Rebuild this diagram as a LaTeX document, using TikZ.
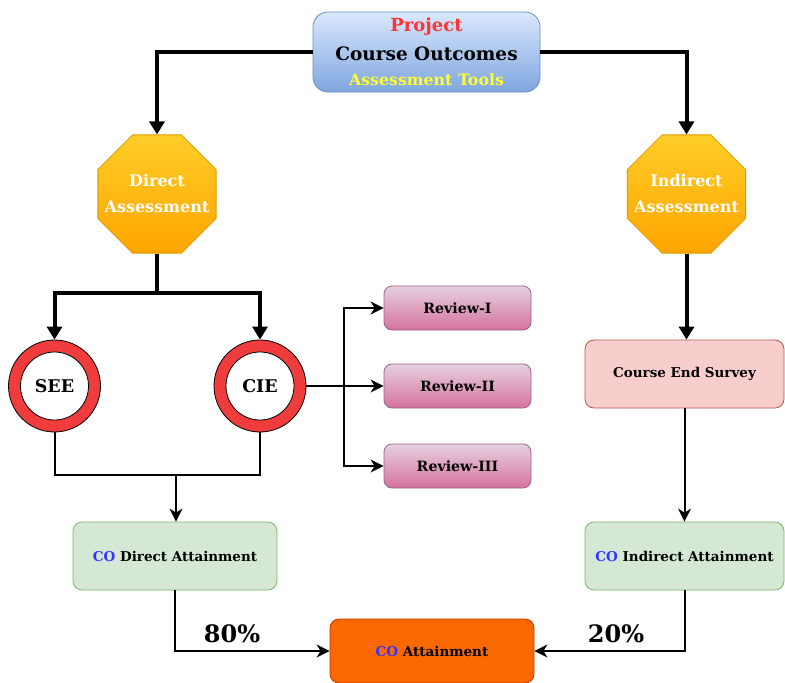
\documentclass[tikz,border=0pt]{standalone}
\usepackage{fontspec}
\setmainfont{DejaVu Serif}
\usetikzlibrary{arrows.meta,shapes.geometric}
\definecolor{topfillA}{HTML}{DAE8FC}
\definecolor{topfillB}{HTML}{7EA6E0}
\definecolor{topstroke}{HTML}{6C8EBF}
\definecolor{octA}{HTML}{FFCD28}
\definecolor{octB}{HTML}{FFA500}
\definecolor{octstroke}{HTML}{D79B00}
\definecolor{projred}{HTML}{FF3333}
\definecolor{toolyel}{HTML}{FFFF33}
\definecolor{cobl}{HTML}{3333FF}
\definecolor{ringred}{HTML}{F03C3C}
\definecolor{revA}{HTML}{E6D0DE}
\definecolor{revB}{HTML}{D5739D}
\definecolor{revstroke}{HTML}{996185}
\definecolor{cesfill}{HTML}{F8CECC}
\definecolor{cesstroke}{HTML}{B85450}
\definecolor{grfill}{HTML}{D5E8D4}
\definecolor{grstroke}{HTML}{82B366}
\definecolor{orfill}{HTML}{FA6800}
\definecolor{orstroke}{HTML}{C73500}
\begin{document}
\begin{tikzpicture}[x=1pt,y=-1pt,
  thickarrow/.style={line width=4pt,-{Triangle[width=15pt,length=13pt]}},
  thickline/.style={line width=4pt},
  thinarrow/.style={line width=2pt,-{Stealth[width=13pt,length=13pt,inset=4pt]}},
  thinline/.style={line width=2pt},
  boxtext/.style={font=\bfseries\fontsize{13.5}{16}\selectfont, text=black},
  topbox/.style={draw=topstroke, line width=0.8pt, rounded corners=15pt, top color=topfillA, bottom color=topfillB, minimum width=227pt, minimum height=80pt, inner sep=0pt, align=center, font=\bfseries\fontsize{18.5}{28}\selectfont},
  octbox/.style={regular polygon, regular polygon sides=8, minimum size=128pt, inner sep=0pt, draw=octstroke, line width=0.8pt, top color=octA, bottom color=octB},
  octtext/.style={text=white, align=center, inner sep=0pt, font=\bfseries\fontsize{16}{26}\selectfont},
  ringnode/.style={circle, draw=black, line width=0.8pt, fill=ringred, minimum size=92pt, inner sep=0pt},
  ringin/.style={circle, draw=black, line width=0.8pt, fill=white, minimum size=68pt, inner sep=0pt, font=\bfseries\fontsize{17.5}{20}\selectfont},
  revbox/.style={boxtext, font=\bfseries\fontsize{14.2}{16}\selectfont, draw=revstroke, line width=0.8pt, rounded corners=8pt, top color=revA, bottom color=revB, minimum width=147pt, minimum height=44pt, inner sep=0pt},
  cesbox/.style={boxtext, draw=cesstroke, line width=0.8pt, rounded corners=9pt, fill=cesfill, minimum width=199pt, minimum height=68pt, inner sep=0pt},
  grbox/.style={boxtext, draw=grstroke, line width=0.8pt, rounded corners=9pt, fill=grfill, minimum height=68pt, inner sep=0pt},
  orbox/.style={boxtext, draw=orstroke, line width=0.8pt, rounded corners=9pt, fill=orfill, minimum width=204pt, minimum height=64pt, inner sep=0pt},
  pct/.style={font=\bfseries\fontsize{24}{26}\selectfont, inner sep=0pt}
]
\useasboundingbox (0,0) rectangle (785,683);

% nodes
\node[topbox] (top) at (426.5,52) {\textcolor{projred}{\fontsize{18}{28}\selectfont Project}\\[1pt]
  Course Outcomes\\[-3pt]
  \textcolor{toolyel}{\fontsize{15.8}{28}\selectfont Assessment Tools}};
\node[octbox] (direct) at (157,194) {};
\node[octtext] (directtext) at (direct) {Direct\\Assessment};
\node[octbox] (indirect) at (686.5,194) {};
\node[octtext] (indirecttext) at (indirect) {Indirect\\Assessment};

\node[ringnode] (see) at (54.5,386) {};
\node[ringin] (seein) at (see) {SEE};
\node[ringnode] (cie) at (260,386) {};
\node[ringin] (ciein) at (cie) {CIE};

\node[revbox] (r1) at (457.5,308) {Review-I};
\node[revbox] (r2) at (457.5,386) {Review-II};
\node[revbox] (r3) at (457.5,466) {Review-III};

\node[cesbox] (ces) at (684.5,374) {Course End Survey};

\node[grbox, minimum width=204pt] (coda) at (175,556) {\textcolor{cobl}{CO} Direct Attainment};
\node[grbox, minimum width=199pt] (coia) at (684.5,556) {\textcolor{cobl}{CO} Indirect Attainment};
\node[orbox] (coatt) at (432,651) {\textcolor{cobl}{CO} Attainment};

\node[pct] (p80) at (232,634) {80\%};
\node[pct] (p20) at (616,634) {20\%};

% coordinates
\coordinate (dj) at (157,293);
\coordinate (cj) at (176,475);
\coordinate (rb) at (344,386);

% connectors
\draw[thickarrow] (top.west) -| (direct.north);
\draw[thickarrow] (top.east) -| (indirect.north);
\draw[thickline] (direct.south) -- (dj);
\draw[thickarrow] (dj) -| (see.north);
\draw[thickarrow] (dj) -| (cie.north);
\draw[thickline, line cap=rect] ([xshift=-2pt]dj) -- ([xshift=2pt]dj);
\draw[thickarrow] (indirect.south) -- (indirect.south |- ces.north);

\draw[thinline] (see.south) |- (cj);
\draw[thinline] (cie.south) |- (cj);
\draw[thinarrow] (cj) -- (cj |- coda.north);

\draw[thinarrow] (cie.east) -- (r2.west);
\draw[thinarrow] (rb) |- (r1.west);
\draw[thinarrow] (rb) |- (r3.west);

\draw[thinarrow] (ces.south) -- (coia.north);
\draw[thinarrow] (coda.south) |- (coatt.west);
\draw[thinarrow] (coia.south) |- (coatt.east);
\end{tikzpicture}
\end{document}
